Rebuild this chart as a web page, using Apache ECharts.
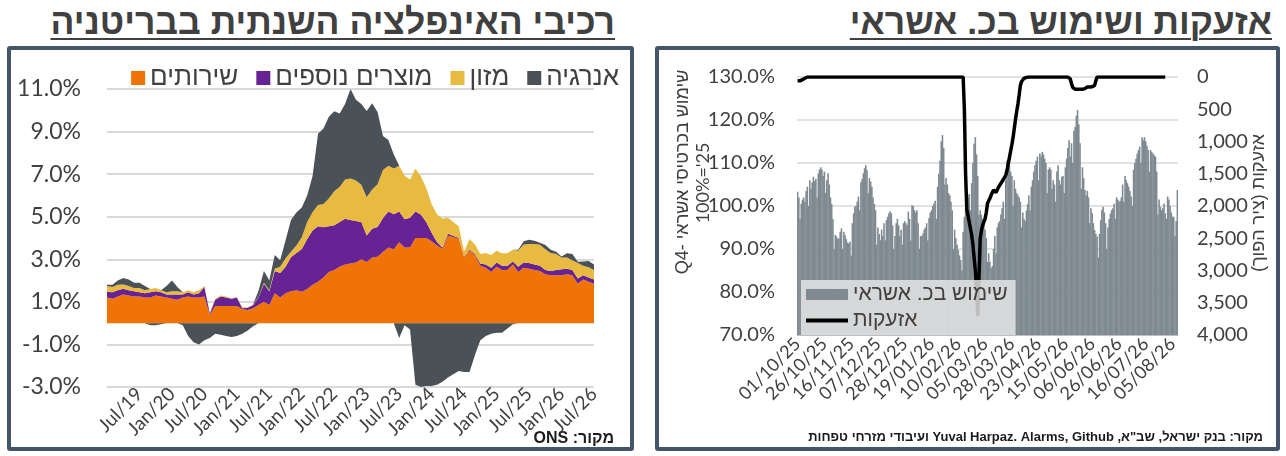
<!DOCTYPE html>
<html>
<head>
<meta charset="utf-8">
<script src="https://cdn.jsdelivr.net/npm/echarts@6/dist/echarts.min.js"></script>
<style>
body{margin:0;width:1286px;height:456px;background:#fff;position:relative;overflow:hidden;font-family:'Liberation Sans',Arial,sans-serif}
.ttl{position:absolute;top:2px;line-height:40px;font-weight:bold;font-size:35.5px;color:#404040;direction:rtl;white-space:nowrap;text-decoration:underline;text-decoration-thickness:2px;text-underline-offset:4px}
.box{position:absolute;top:46px;height:405px;border:4px solid #44546A;border-radius:3px;box-sizing:border-box}
#chart{position:absolute;left:0;top:0;width:1286px;height:456px}
</style>
</head>
<body>
<div class="ttl" style="right:671px">רכיבי האינפלציה השנתית בבריטניה</div>
<div class="ttl" style="right:14px">אזעקות ושימוש בכ. אשראי</div>
<div class="box" style="left:7px;width:627px"></div>
<div class="box" style="left:655px;width:625px"></div>
<div id="chart"></div>
<script>
// ---- left: UK inflation components, Jan/19 .. Jul/26 (monthly) ----
var monNames = ['Jan','Feb','Mar','Apr','May','Jun','Jul','Aug','Sep','Oct','Nov','Dec']
var months = []
for (var y = 19; y <= 26; y++) {
    for (var m = 0; m < 12; m++) {
        if (y === 26 && m > 6) break
        months.push(monNames[m] + '/' + y)
    }
}
var services = [1.2,1.15,1.25,1.35,1.3,1.25,1.25,1.2,1.2,1.3, 1.25,1.2,1.15,1.1,1.2,1.25,1.2,1.2,1.25,0.4,
    0.8,0.8,0.8,0.8,0.8,0.65,0.62,0.7,0.85,1.0, 0.85,1.4,1.2,1.4,1.5,1.55,1.48,1.6,1.8,1.95,
    2.15,2.4,2.5,2.65,2.75,2.8,2.85,3.0,2.87,3.08, 3.12,3.34,3.55,3.47,3.8,3.55,3.55,4.0,4.0,4.0,
    3.85,3.65,3.5,4.1,4.05,3.95,3.1,3.4,3.2,2.7, 2.6,2.4,2.65,2.5,2.5,2.75,2.4,2.6,2.55,2.5,
    2.45,2.3,2.25,2.25,2.25,2.3,2.25,1.85,2.05,1.95, 1.85]
var goods = [0.27,0.3,0.3,0.27,0.25,0.25,0.2,0.2,0.25,0.2, 0.2,0.15,0.2,0.25,0.15,0.2,0.15,0.2,0.45,0.05,
    0.3,0.45,0.4,0.35,0.4,0.05,0.1,0.15,0.35,0.85, 0.65,1.05,1.15,1.25,1.6,1.75,2.0,2.35,2.55,2.6,
    2.35,2.15,2.1,2.1,2.15,2.05,1.95,1.75,1.25,1.35, 1.4,1.6,1.7,1.65,1.45,1.33,1.4,1.25,1.1,0.75,
    0.4,0.15,0.05,0.1,0.05,0.05,0.02,0.05,0.05,0.1, 0.15,0.2,0.2,0.2,0.2,0.15,0.25,0.25,0.27,0.25,
    0.25,0.2,0.2,0.25,0.28,0.25,0.25,0.25,0.2,0.2, 0.2]
var food = [0.28,0.25,0.25,0.2,0.2,0.15,0.2,0.15,0.15,0.15, 0.1,0.1,0.15,0.15,0.1,0.1,0.1,0.15,0.05,0.02,
    0.05,0.05,0.05,0.02,0.02,0.05,0.02,0.02,0.02,0.05, 0.05,0.1,0.3,0.4,0.25,0.35,0.55,0.8,0.87,1.0,
    1.1,1.3,1.6,1.65,1.85,1.95,1.9,1.75,1.8,1.85, 2.0,2.25,2.15,2.15,2.15,2.05,1.8,2.0,1.8,1.6,
    1.33,1.3,1.35,0.75,0.65,0.55,0.25,0.5,0.45,0.45, 0.55,0.6,0.55,0.58,0.58,0.55,0.75,0.85,0.9,0.97,
    0.98,0.97,0.85,0.75,0.55,0.53,0.45,0.73,0.45,0.47, 0.45]
var energy = [0.05,0.1,0.2,0.3,0.3,0.25,0.25,0.2,-0.1,-0.1, -0.05,0.3,0.5,0.2,-0.1,-0.6,-0.9,-1.0,-0.8,-0.7,
    -0.5,-0.55,-0.6,-0.65,-0.6,-0.5,-0.35,-0.15,0.3,0.55, 0.45,0.65,0.3,0.85,1.5,1.55,1.4,1.25,1.7,3.35,
    3.55,3.85,3.75,3.45,3.55,4.2,3.8,3.8,4.05,4.05, 3.4,1.6,1.2,0.65,-0.7,-0.1,-0.3,-2.9,-3.0,-2.95,
    -2.95,-2.9,-2.75,-2.55,-2.4,-2.25,-2.3,-2.3,-1.5,-0.8, -0.6,-0.5,-0.45,-0.45,-0.25,-0.05,0.05,0.15,0.2,0.15,
    0.1,0.2,0.15,0.1,0.05,0.2,0.3,0.05,0.2,0.3, 0.25]
var leftNames = ['שירותים', 'מוצרים נוספים', 'מזון', 'אנרגיה']
var leftColors = ['#F07306', '#672293', '#E8BB40', '#4A5157']

// ---- right: card spending (daily, % of Q4-25) and alarms ----
var dateTicks = ['01/10/25','26/10/25','16/11/25','07/12/25','28/12/25','19/01/26','10/02/26','05/03/26',
    '28/03/26','23/04/26','15/05/26','06/06/26','26/06/26','16/07/26','05/08/26']
var cardUse = [103.3,102,97,100.5,101.5,102,101,103.5,104.5,100,
    106,104,105.5,106.8,105.8,106.3,102,107.6,108.5,109,
    108.5,107,108,103,106,107.6,105,102,100.5,97,
    90,93.3,92.9,92.3,92.5,94,94.8,90,94,93.2,
    92.3,91.5,91.3,91.7,88.5,96,98.3,99.8,100,101,
    102.2,99,105.5,106.3,107.6,108.8,109.5,108.4,103,106.5,
    105.7,104.5,102,100.5,99,91,95,93.5,92.1,94.5,
    93,96,92,96.7,97.5,98.3,98.7,98.3,95.5,90,
    93,96,97,95.5,93,94.5,91,96,96.5,96,
    95.5,98.7,97,92,100.2,100,99,98.5,99,96,
    90,93,93,93.6,94.5,95,96,92,97.2,98.5,
    99,100,100.6,101.2,97,104.5,107.5,110.5,115,116.5,
    113.5,105,106.5,105,103,102.5,101,99,90,94.5,
    92.5,91,89.8,88.5,87.4,85,94,97.5,99.5,101,
    102.2,102.8,99,105.3,110,114.5,116,112,107,98,
    99,98,97,96,94.5,92.5,87,89,87,85.5,
    86,90,93,89,95,96,96.5,98,99.5,101,
    97,106,110.5,109,109.5,108,107,100,106,104,
    103,102.5,102,101,95,98.5,97,96.5,99,100.5,
    102.5,99,104.5,106,108,109.5,110.5,111.5,106,112.2,
    111.5,112.6,112,111,110,103,108.5,109,108.5,104,
    106,105,101,108,109.5,106,105,106.8,107,103,
    109,111,113.5,115.3,111.5,114.6,110,117.5,118.4,121,
    122.3,119,114.6,104,109,106.5,103.7,102.5,103.5,102,
    96,99.5,98.3,96,94.4,93.5,92.9,88,93.5,96.7,
    99.1,99.8,98.5,96,90,95,97,98.3,99.1,99.5,
    100.5,97,102,101.5,101,101.2,102,105,101,107,
    106,105.3,104.5,103.5,102.2,100,108.4,110,111,112.2,
    113,113.8,110,116,115.3,116,115,114,113,108,
    113,112.5,112.2,111.8,111.5,108,98,101.5,99.8,99,
    99.5,100.5,98.3,97,102.2,101.5,100,98.5,97.5,97.5,
    93,96.5,103.7]
var alarms = [60,70,60,70,40,30,20,10,0,0,
    0,0,0,0,0,0,0,0,0,0, 0,0,0,0,0,0,0,0,0,0, 0,0,0,0,0,0,0,0,0,0, 0,0,0,0,0,0,0,0,0,0,
    0,0,0,0,0,0,0,0,0,0, 0,0,0,0,0,0,0,0,0,0, 0,0,0,0,0,0,0,0,0,0, 0,0,0,0,0,0,0,0,0,0,
    0,0,0,0,0,0,0,0,0,0, 0,0,0,0,0,0,0,0,0,0, 0,0,0,0,0,0,0,0,0,0, 0,0,0,0,0,0,0,0,0,0,
    0,0,0,0,0,0,0,
    500,1500,2050,2150,2250,2350,2450,2600,2800,3000,
    3300,3700,3100,2500,2380,2300,2250,2200,2100,1960,
    1920,1880,1830,1790,1750,1770,1790,1750,1710,1680,
    1650,1620,1590,1560,1520,1450,1350,1250,1150,1050,
    940,800,660,530,420,280,130,70,40,20,
    10,5,
    0,0,0,0,0,0,0,0,0,0, 0,0,0,0,0,0,0,0,0,0, 0,0,0,0,0,0,0,0,0,0, 0,0,0,0,0,
    30,100,160,180,190,190,190,190,190,190,190,190,180,170,155,155,155,155,150,150,130,60,
    0,0,0,0,0,0,0,0,0,0, 0,0,0,0,0,0,0,0,0,0, 0,0,0,0,0,0,0,0,0,0, 0,0,0,0,0,0,0,0,0,0,
    0,0,0,0,0,0,0,0,0,0, 0,0,0,0,0,0,0]
var tickEvery = 22
var days = []
for (var i = 0; i < cardUse.length; i++) {
    days.push(i % tickEvery === 0 ? dateTicks[i / tickEvery] : 'd' + i)
}

var numFont = "Lato, 'Liberation Sans', sans-serif"
var hebFont = "'Liberation Sans', Arial, sans-serif"
var txtColor = '#404040'

var energyPos = energy.map(function (v) { return v > 0 ? v : 0 })
var energyNeg = energy.map(function (v) { return v < 0 ? v : 0 })

function areaSeries(name, color, data, stack) {
    return {
        name: name, type: 'line', xAxisIndex: 0, yAxisIndex: 0,
        stack: stack, symbol: 'none', smooth: false,
        lineStyle: {width: 0}, itemStyle: {color: color},
        areaStyle: {color: color, opacity: 1},
        data: data
    }
}

var chart = echarts.init(document.getElementById('chart'))
var option = {
    animation: false,
    legend: [{
        data: leftNames.map(function (n) { return {name: n, icon: 'rect'} }),
        right: 662, top: 60, itemWidth: 14, itemHeight: 14, itemGap: 18,
        textStyle: {fontFamily: hebFont, fontSize: 26, color: txtColor}
    }, {
        data: [{name: 'שימוש בכ. אשראי', icon: 'rect'}, {name: 'אזעקות', icon: 'path://M0,0 L42,0 L42,4 L0,4 Z'}],
        orient: 'vertical', left: 801, top: 280, itemWidth: 42, itemHeight: 11, itemGap: 5,
        padding: [4, 8, 4, 5], backgroundColor: 'rgba(232,232,232,0.82)', symbolKeepAspect: true,
        textStyle: {fontFamily: hebFont, fontSize: 21, color: txtColor}
    }],
    grid: [
        {left: 107, top: 89, width: 487, height: 298},
        {left: 797, top: 77, width: 381, height: 258}
    ],
    xAxis: [{
        type: 'category', gridIndex: 0, data: months, boundaryGap: false,
        axisLine: {show: false, onZero: false}, axisTick: {show: false},
        axisLabel: {
            rotate: 45, margin: 4, fontSize: 19, fontFamily: numFont, color: txtColor, hideOverlap: false,
            interval: function (idx) { return idx > 0 && idx % 6 === 0 }
        }
    }, {
        type: 'category', gridIndex: 1, data: days,
        axisLine: {show: true, onZero: false, lineStyle: {color: '#bfbfbf'}}, axisTick: {show: false},
        axisLabel: {rotate: 45, margin: 6, fontSize: 18, fontFamily: numFont, color: txtColor,
            hideOverlap: false, interval: tickEvery - 1}
    }],
    yAxis: [{
        type: 'value', gridIndex: 0, min: -3, max: 11, interval: 2,
        axisLine: {show: false}, axisTick: {show: false},
        splitLine: {lineStyle: {color: '#D9D9D9', width: 2}},
        axisLabel: {margin: 26, fontSize: 23, fontFamily: numFont, color: txtColor,
            formatter: function (v) { return v.toFixed(1) + '%' }}
    }, {
        type: 'value', gridIndex: 1, min: 70, max: 130, interval: 10,
        axisLine: {show: false}, axisTick: {show: false},
        splitLine: {lineStyle: {color: '#D9D9D9', width: 1.5}},
        axisLabel: {margin: 22, fontSize: 20, fontFamily: numFont, color: txtColor,
            formatter: function (v) { return v.toFixed(1) + '%' }}
    }, {
        type: 'value', gridIndex: 1, position: 'right', inverse: true, min: 0, max: 4000, interval: 500,
        axisLine: {show: false}, axisTick: {show: false}, splitLine: {show: false},
        axisLabel: {margin: 19, fontSize: 20, fontFamily: numFont, color: txtColor,
            formatter: function (v) { return v.toLocaleString('en-US') }}
    }],
    series: [
        areaSeries(leftNames[0], leftColors[0], services, 'pos'),
        areaSeries(leftNames[1], leftColors[1], goods, 'pos'),
        areaSeries(leftNames[2], leftColors[2], food, 'pos'),
        areaSeries(leftNames[3], leftColors[3], energyPos, 'pos'),
        areaSeries(leftNames[3], leftColors[3], energyNeg, null),
        {
            name: 'שימוש בכ. אשראי', type: 'bar', xAxisIndex: 1, yAxisIndex: 1,
            barWidth: 1.6, itemStyle: {color: '#7F8A91'}, data: cardUse
        },
        {
            name: 'אזעקות', type: 'line', xAxisIndex: 1, yAxisIndex: 2, symbol: 'none',
            lineStyle: {color: '#000', width: 3.5}, itemStyle: {color: '#000'}, data: alarms, z: 3
        }
    ],
    graphic: [
        {type: 'text', x: 614, y: 439, style: {text: '\u202Bמקור: ONS\u202C', font: 'bold 16px ' + hebFont,
            fill: '#1a1a1a', align: 'right', verticalAlign: 'middle'}},
        {type: 'text', x: 1263, y: 437, style: {
            text: '\u202Bמקור: בנק ישראל, שב"א, Yuval Harpaz. Alarms, Github ועיבודי מזרחי טפחות\u202C',
            font: 'bold 13px ' + hebFont, fill: '#1a1a1a', align: 'right', verticalAlign: 'middle'}},
        {type: 'text', x: 683, y: 172, rotation: Math.PI / 2, style: {text: 'Q4- שימוש בכרטיסי אשראי',
            font: '18px ' + hebFont, fill: txtColor, align: 'center', verticalAlign: 'middle'}},
        {type: 'text', x: 703, y: 183, rotation: Math.PI / 2, style: {text: "100%='25",
            font: '18px ' + numFont, fill: txtColor, align: 'center', verticalAlign: 'middle'}},
        {type: 'text', x: 1259, y: 203, rotation: Math.PI / 2, style: {text: '\u202Bאזעקות (ציר הפוך)\u202C',
            font: '18px ' + hebFont, fill: txtColor, align: 'center', verticalAlign: 'middle'}}
    ]
}
chart.setOption(option)
</script>
</body>
</html>
